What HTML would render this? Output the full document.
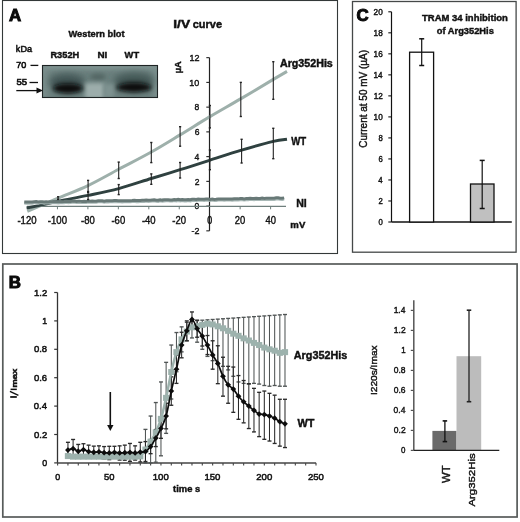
<!DOCTYPE html>
<html><head><meta charset="utf-8"><style>
html,body{margin:0;padding:0;background:#fff;}
svg{display:block;font-family:"Liberation Sans",sans-serif;will-change:transform;}
</style></head><body>
<svg width="520" height="522" viewBox="0 0 520 522">
<rect width="520" height="522" fill="#fff"/>
<rect x="2.5" y="0.5" width="335" height="253" fill="none" stroke="#333838" stroke-width="1.1"/>
<rect x="352.5" y="1.5" width="163.6" height="250.7" fill="none" stroke="#454848" stroke-width="1.3"/>
<rect x="2.8" y="264" width="514.3" height="253.0" fill="none" stroke="#575b5a" stroke-width="1.7"/>
<text x="9.08" y="20.80" font-size="16.86" font-weight="bold" fill="#0a0a0a" stroke="#0a0a0a" stroke-width="1.0" textLength="12.16" lengthAdjust="spacingAndGlyphs">A</text>
<text x="68.50" y="36.59" font-size="9.63" font-weight="bold" fill="#111" stroke="#111" stroke-width="0.42" textLength="56.00" lengthAdjust="spacingAndGlyphs">Western blot</text>
<text x="15.86" y="51.52" font-size="9.59" font-weight="normal" fill="#111" stroke="#111" stroke-width="0.55" textLength="16.16" lengthAdjust="spacingAndGlyphs">kDa</text>
<text x="50.39" y="57.59" font-size="9.57" font-weight="bold" fill="#111" stroke="#111" stroke-width="0.42" textLength="28.93" lengthAdjust="spacingAndGlyphs">R352H</text>
<text x="97.45" y="58.29" font-size="9.42" font-weight="bold" fill="#111" stroke="#111" stroke-width="0.42" textLength="9.91" lengthAdjust="spacingAndGlyphs">NI</text>
<text x="124.60" y="58.29" font-size="9.42" font-weight="bold" fill="#111" stroke="#111" stroke-width="0.42" textLength="14.49" lengthAdjust="spacingAndGlyphs">WT</text>
<text x="16.14" y="68.20" font-size="9.02" font-weight="normal" fill="#111" stroke="#111" stroke-width="0.6" textLength="10.01" lengthAdjust="spacingAndGlyphs">70</text>
<text x="16.42" y="85.20" font-size="8.87" font-weight="normal" fill="#111" stroke="#111" stroke-width="0.6" textLength="10.69" lengthAdjust="spacingAndGlyphs">55</text>
<line x1="30.50" y1="65.40" x2="38.30" y2="65.40" stroke="#111" stroke-width="1.3" />
<line x1="29.50" y1="82.50" x2="38.00" y2="82.50" stroke="#111" stroke-width="1.3" />
<line x1="16.30" y1="90.60" x2="38.50" y2="90.60" stroke="#111" stroke-width="1.3" />
<path d="M36.5,87.6 L43,90.6 L36.5,93.6 Z" fill="#111"/>
<defs>
<filter id="bl1" x="-50%" y="-50%" width="200%" height="200%"><feGaussianBlur stdDeviation="2.2"/></filter>
<filter id="bl2" x="-50%" y="-50%" width="200%" height="200%"><feGaussianBlur stdDeviation="3.5"/></filter>
<filter id="bl3" x="-50%" y="-50%" width="200%" height="200%"><feGaussianBlur stdDeviation="1.4"/></filter>
<filter id="bl4" x="-50%" y="-50%" width="200%" height="200%"><feGaussianBlur stdDeviation="1.9"/></filter>
<clipPath id="blotclip"><rect x="42.5" y="65.5" width="115" height="32"/></clipPath>
</defs>
<g clip-path="url(#blotclip)">
<rect x="42" y="65" width="116" height="33" fill="#6a7f7d"/>
<rect x="40" y="62" width="120" height="8" fill="#7f9391" filter="url(#bl1)"/>
<rect x="38" y="60" width="10" height="40" fill="#7a8e8c" filter="url(#bl2)"/>
<rect x="153" y="60" width="10" height="40" fill="#7d918f" filter="url(#bl2)"/>
<ellipse cx="67" cy="82" rx="18" ry="8" fill="#3f5352" filter="url(#bl2)"/>
<ellipse cx="134" cy="81" rx="20" ry="8" fill="#425655" filter="url(#bl2)"/>
<ellipse cx="98" cy="77" rx="8" ry="3.5" fill="#526664" filter="url(#bl1)"/>
<rect x="85" y="83" width="19" height="16" fill="#9cadab" filter="url(#bl1)"/>
<rect x="104" y="84" width="10" height="14" fill="#7f9391" filter="url(#bl1)"/>
<ellipse cx="68" cy="88.4" rx="15" ry="5.0" fill="#070d0d" filter="url(#bl4)"/>
<ellipse cx="134" cy="87.4" rx="17.5" ry="4.9" fill="#070d0d" filter="url(#bl4)"/>
</g>
<rect x="42.5" y="65.5" width="115" height="32" fill="none" stroke="#1e2424" stroke-width="1.1"/>
<text x="173.29" y="28.19" font-size="10.32" font-weight="bold" fill="#111" stroke="#111" stroke-width="0.42" textLength="16.79" lengthAdjust="spacingAndGlyphs">I/V</text>
<text x="192.78" y="28.19" font-size="10.36" font-weight="bold" fill="#111" stroke="#111" stroke-width="0.42" textLength="29.28" lengthAdjust="spacingAndGlyphs">curve</text>
<line x1="209.50" y1="57.66" x2="209.50" y2="230.84" stroke="#222" stroke-width="1.2" />
<line x1="206.30" y1="230.84" x2="209.50" y2="230.84" stroke="#222" stroke-width="1.1" />
<line x1="206.30" y1="206.10" x2="209.50" y2="206.10" stroke="#222" stroke-width="1.1" />
<line x1="206.30" y1="181.36" x2="209.50" y2="181.36" stroke="#222" stroke-width="1.1" />
<line x1="206.30" y1="156.62" x2="209.50" y2="156.62" stroke="#222" stroke-width="1.1" />
<line x1="206.30" y1="131.88" x2="209.50" y2="131.88" stroke="#222" stroke-width="1.1" />
<line x1="206.30" y1="107.14" x2="209.50" y2="107.14" stroke="#222" stroke-width="1.1" />
<line x1="206.30" y1="82.40" x2="209.50" y2="82.40" stroke="#222" stroke-width="1.1" />
<line x1="206.30" y1="57.66" x2="209.50" y2="57.66" stroke="#222" stroke-width="1.1" />
<text x="191.54" y="234.04" font-size="9.60" font-weight="normal" fill="#111" stroke="#111" stroke-width="0.4" textLength="7.91" lengthAdjust="spacingAndGlyphs">-2</text>
<text x="194.57" y="209.30" font-size="9.60" font-weight="normal" fill="#111" stroke="#111" stroke-width="0.4" textLength="4.76" lengthAdjust="spacingAndGlyphs">0</text>
<text x="194.69" y="184.56" font-size="9.60" font-weight="normal" fill="#111" stroke="#111" stroke-width="0.4" textLength="4.74" lengthAdjust="spacingAndGlyphs">2</text>
<text x="194.47" y="159.82" font-size="9.74" font-weight="normal" fill="#111" stroke="#111" stroke-width="0.4" textLength="4.79" lengthAdjust="spacingAndGlyphs">4</text>
<text x="194.63" y="135.08" font-size="9.60" font-weight="normal" fill="#111" stroke="#111" stroke-width="0.4" textLength="4.75" lengthAdjust="spacingAndGlyphs">6</text>
<text x="194.62" y="110.34" font-size="9.60" font-weight="normal" fill="#111" stroke="#111" stroke-width="0.4" textLength="4.75" lengthAdjust="spacingAndGlyphs">8</text>
<text x="189.34" y="85.60" font-size="9.60" font-weight="normal" fill="#111" stroke="#111" stroke-width="0.4" textLength="10.01" lengthAdjust="spacingAndGlyphs">10</text>
<text x="189.45" y="60.86" font-size="9.60" font-weight="normal" fill="#111" stroke="#111" stroke-width="0.4" textLength="10.00" lengthAdjust="spacingAndGlyphs">12</text>
<line x1="27.00" y1="206.40" x2="286.00" y2="206.40" stroke="#6f7f7d" stroke-width="1.1" />
<line x1="27.00" y1="206.40" x2="27.00" y2="209.30" stroke="#6f7f7d" stroke-width="1.0" />
<line x1="57.45" y1="206.40" x2="57.45" y2="209.30" stroke="#6f7f7d" stroke-width="1.0" />
<line x1="87.90" y1="206.40" x2="87.90" y2="209.30" stroke="#6f7f7d" stroke-width="1.0" />
<line x1="118.35" y1="206.40" x2="118.35" y2="209.30" stroke="#6f7f7d" stroke-width="1.0" />
<line x1="148.80" y1="206.40" x2="148.80" y2="209.30" stroke="#6f7f7d" stroke-width="1.0" />
<line x1="179.25" y1="206.40" x2="179.25" y2="209.30" stroke="#6f7f7d" stroke-width="1.0" />
<line x1="240.15" y1="206.40" x2="240.15" y2="209.30" stroke="#6f7f7d" stroke-width="1.0" />
<line x1="270.60" y1="206.40" x2="270.60" y2="209.30" stroke="#6f7f7d" stroke-width="1.0" />
<text x="17.38" y="223.60" font-size="10.45" font-weight="normal" fill="#111" stroke="#111" stroke-width="0.4" textLength="19.19" lengthAdjust="spacingAndGlyphs">-120</text>
<text x="47.83" y="223.60" font-size="10.45" font-weight="normal" fill="#111" stroke="#111" stroke-width="0.4" textLength="19.19" lengthAdjust="spacingAndGlyphs">-100</text>
<text x="81.01" y="223.60" font-size="10.45" font-weight="normal" fill="#111" stroke="#111" stroke-width="0.4" textLength="13.74" lengthAdjust="spacingAndGlyphs">-80</text>
<text x="111.46" y="223.60" font-size="10.45" font-weight="normal" fill="#111" stroke="#111" stroke-width="0.4" textLength="13.74" lengthAdjust="spacingAndGlyphs">-60</text>
<text x="141.91" y="223.60" font-size="10.45" font-weight="normal" fill="#111" stroke="#111" stroke-width="0.4" textLength="13.74" lengthAdjust="spacingAndGlyphs">-40</text>
<text x="172.36" y="223.60" font-size="10.45" font-weight="normal" fill="#111" stroke="#111" stroke-width="0.4" textLength="13.74" lengthAdjust="spacingAndGlyphs">-20</text>
<text x="207.21" y="223.60" font-size="10.45" font-weight="normal" fill="#111" stroke="#111" stroke-width="0.4" textLength="4.98" lengthAdjust="spacingAndGlyphs">0</text>
<text x="234.87" y="223.60" font-size="10.45" font-weight="normal" fill="#111" stroke="#111" stroke-width="0.4" textLength="10.46" lengthAdjust="spacingAndGlyphs">20</text>
<text x="265.44" y="223.60" font-size="10.45" font-weight="normal" fill="#111" stroke="#111" stroke-width="0.4" textLength="10.47" lengthAdjust="spacingAndGlyphs">40</text>
<path d="M27.30,211.30 C32.42,209.12 47.88,202.48 58.00,198.20 C68.12,193.92 77.88,190.42 88.00,185.60 C98.12,180.78 108.15,174.90 118.70,169.30 C129.25,163.70 141.07,157.73 151.30,152.00 C161.53,146.27 170.40,140.75 180.10,134.90 C189.80,129.05 199.42,122.90 209.50,116.90 C219.58,110.90 229.97,105.15 240.60,98.90 C251.23,92.65 265.57,83.98 273.30,79.40 C281.03,74.82 284.72,72.73 287.00,71.40" fill="none" stroke="#9eb0ab" stroke-width="3.0"/>
<path d="M26.90,208.00 C29.58,207.43 37.48,205.80 43.00,204.60 C48.52,203.40 52.50,202.33 60.00,200.80 C67.50,199.27 78.22,197.43 88.00,195.40 C97.78,193.37 108.15,191.42 118.70,188.60 C129.25,185.78 141.07,181.65 151.30,178.50 C161.53,175.35 170.40,172.73 180.10,169.70 C189.80,166.67 199.25,163.57 209.50,160.30 C219.75,157.03 230.97,153.25 241.60,150.10 C252.23,146.95 265.73,143.20 273.30,141.40 C280.87,139.60 284.72,139.65 287.00,139.30" fill="none" stroke="#2f4140" stroke-width="2.9"/>
<path d="M24.20,203.74 L26.20,203.90 L28.20,203.76 L30.20,203.87 L32.20,203.85 L34.20,203.48 L36.20,203.42 L38.20,203.88 L40.20,203.50 L42.20,203.46 L44.20,203.88 L46.20,203.54 L48.20,203.72 L50.20,203.48 L52.20,203.54 L54.20,203.22 L56.20,203.48 L58.20,203.59 L60.20,203.35 L62.20,203.45 L64.20,203.37 L66.20,202.98 L68.20,203.36 L70.20,203.23 L72.20,203.02 L74.20,202.83 L76.20,203.30 L78.20,203.03 L80.20,203.15 L82.20,203.21 L84.20,203.08 L86.20,203.18 L88.20,202.83 L90.20,203.04 L92.20,202.80 L94.20,203.06 L96.20,202.99 L98.20,202.49 L100.20,202.48 L102.20,202.50 L104.20,202.92 L106.20,202.57 L108.20,202.65 L110.20,202.43 L112.20,202.52 L114.20,202.41 L116.20,202.36 L118.20,202.47 L120.20,202.44 L122.20,202.60 L124.20,202.43 L126.20,202.55 L128.20,202.48 L130.20,202.52 L132.20,202.30 L134.20,201.97 L136.20,202.35 L138.20,202.38 L140.20,202.32 L142.20,202.08 L144.20,202.14 L146.20,201.81 L148.20,202.15 L150.20,201.96 L152.20,201.75 L154.20,201.59 L156.20,202.03 L158.20,202.08 L160.20,201.51 L162.20,201.91 L164.20,201.64 L166.20,201.45 L168.20,201.51 L170.20,201.76 L172.20,201.79 L174.20,201.26 L176.20,201.57 L178.20,201.20 L180.20,201.57 L182.20,201.31 L184.20,201.61 L186.20,201.64 L188.20,201.32 L190.20,201.58 L192.20,201.14 L194.20,200.97 L196.20,201.25 L198.20,200.88 L200.20,200.95 L202.20,201.04 L204.20,201.13 L206.20,200.83 L208.20,200.73 L210.20,201.19 L212.20,200.83 L214.20,201.18 L216.20,201.11 L218.20,200.77 L220.20,200.79 L222.20,200.79 L224.20,200.84 L226.20,200.78 L228.20,200.72 L230.20,200.73 L232.20,200.89 L234.20,200.60 L236.20,200.52 L238.20,200.66 L240.20,200.34 L242.20,200.35 L244.20,200.72 L246.20,200.42 L248.20,200.40 L250.20,200.05 L252.20,200.26 L254.20,200.33 L256.20,199.96 L258.20,200.28 L260.20,200.26 L262.20,199.89 L264.20,200.20 L266.20,200.07 L268.20,200.16 L270.20,199.94 L272.20,200.12 L274.20,200.11 L276.20,199.64 L278.20,199.64 L280.20,199.97 L282.20,200.11 L284.20,199.66" fill="none" stroke="#a9b9b7" stroke-width="1.6"/>
<path d="M24.20,201.94 L26.20,202.10 L28.20,201.96 L30.20,202.07 L32.20,202.05 L34.20,201.68 L36.20,201.62 L38.20,202.08 L40.20,201.70 L42.20,201.66 L44.20,202.08 L46.20,201.74 L48.20,201.92 L50.20,201.68 L52.20,201.74 L54.20,201.42 L56.20,201.68 L58.20,201.79 L60.20,201.55 L62.20,201.65 L64.20,201.57 L66.20,201.18 L68.20,201.56 L70.20,201.43 L72.20,201.22 L74.20,201.03 L76.20,201.50 L78.20,201.23 L80.20,201.35 L82.20,201.41 L84.20,201.28 L86.20,201.38 L88.20,201.03 L90.20,201.24 L92.20,201.00 L94.20,201.26 L96.20,201.19 L98.20,200.69 L100.20,200.68 L102.20,200.70 L104.20,201.12 L106.20,200.77 L108.20,200.85 L110.20,200.63 L112.20,200.72 L114.20,200.61 L116.20,200.56 L118.20,200.67 L120.20,200.64 L122.20,200.80 L124.20,200.63 L126.20,200.75 L128.20,200.68 L130.20,200.72 L132.20,200.50 L134.20,200.17 L136.20,200.55 L138.20,200.58 L140.20,200.52 L142.20,200.28 L144.20,200.34 L146.20,200.01 L148.20,200.35 L150.20,200.16 L152.20,199.95 L154.20,199.79 L156.20,200.23 L158.20,200.28 L160.20,199.71 L162.20,200.11 L164.20,199.84 L166.20,199.65 L168.20,199.71 L170.20,199.96 L172.20,199.99 L174.20,199.46 L176.20,199.77 L178.20,199.40 L180.20,199.77 L182.20,199.51 L184.20,199.81 L186.20,199.84 L188.20,199.52 L190.20,199.78 L192.20,199.34 L194.20,199.17 L196.20,199.45 L198.20,199.08 L200.20,199.15 L202.20,199.24 L204.20,199.33 L206.20,199.03 L208.20,198.93 L210.20,199.39 L212.20,199.03 L214.20,199.38 L216.20,199.31 L218.20,198.97 L220.20,198.99 L222.20,198.99 L224.20,199.04 L226.20,198.98 L228.20,198.92 L230.20,198.93 L232.20,199.09 L234.20,198.80 L236.20,198.72 L238.20,198.86 L240.20,198.54 L242.20,198.55 L244.20,198.92 L246.20,198.62 L248.20,198.60 L250.20,198.25 L252.20,198.46 L254.20,198.53 L256.20,198.16 L258.20,198.48 L260.20,198.46 L262.20,198.09 L264.20,198.40 L266.20,198.27 L268.20,198.36 L270.20,198.14 L272.20,198.32 L274.20,198.31 L276.20,197.84 L278.20,197.84 L280.20,198.17 L282.20,198.31 L284.20,197.86" fill="none" stroke="#687977" stroke-width="3.0"/>
<line x1="58.10" y1="196.80" x2="58.10" y2="199.30" stroke="#222" stroke-width="1.1" />
<line x1="57.00" y1="196.80" x2="59.20" y2="196.80" stroke="#222" stroke-width="1.4000000000000001" />
<line x1="57.00" y1="199.30" x2="59.20" y2="199.30" stroke="#222" stroke-width="1.4000000000000001" />
<line x1="88.10" y1="180.40" x2="88.10" y2="191.50" stroke="#222" stroke-width="1.1" />
<line x1="87.00" y1="180.40" x2="89.20" y2="180.40" stroke="#222" stroke-width="1.4000000000000001" />
<line x1="87.00" y1="191.50" x2="89.20" y2="191.50" stroke="#222" stroke-width="1.4000000000000001" />
<line x1="88.10" y1="192.50" x2="88.10" y2="199.50" stroke="#222" stroke-width="1.1" />
<line x1="87.00" y1="192.50" x2="89.20" y2="192.50" stroke="#222" stroke-width="1.4000000000000001" />
<line x1="87.00" y1="199.50" x2="89.20" y2="199.50" stroke="#222" stroke-width="1.4000000000000001" />
<line x1="118.70" y1="162.10" x2="118.70" y2="178.50" stroke="#222" stroke-width="1.1" />
<line x1="117.60" y1="162.10" x2="119.80" y2="162.10" stroke="#222" stroke-width="1.4000000000000001" />
<line x1="117.60" y1="178.50" x2="119.80" y2="178.50" stroke="#222" stroke-width="1.4000000000000001" />
<line x1="118.70" y1="184.60" x2="118.70" y2="194.60" stroke="#222" stroke-width="1.1" />
<line x1="117.60" y1="184.60" x2="119.80" y2="184.60" stroke="#222" stroke-width="1.4000000000000001" />
<line x1="117.60" y1="194.60" x2="119.80" y2="194.60" stroke="#222" stroke-width="1.4000000000000001" />
<line x1="151.30" y1="142.50" x2="151.30" y2="162.60" stroke="#222" stroke-width="1.1" />
<line x1="150.20" y1="142.50" x2="152.40" y2="142.50" stroke="#222" stroke-width="1.4000000000000001" />
<line x1="150.20" y1="162.60" x2="152.40" y2="162.60" stroke="#222" stroke-width="1.4000000000000001" />
<line x1="151.30" y1="173.90" x2="151.30" y2="184.30" stroke="#222" stroke-width="1.1" />
<line x1="150.20" y1="173.90" x2="152.40" y2="173.90" stroke="#222" stroke-width="1.4000000000000001" />
<line x1="150.20" y1="184.30" x2="152.40" y2="184.30" stroke="#222" stroke-width="1.4000000000000001" />
<line x1="180.10" y1="126.70" x2="180.10" y2="146.20" stroke="#222" stroke-width="1.1" />
<line x1="179.00" y1="126.70" x2="181.20" y2="126.70" stroke="#222" stroke-width="1.4000000000000001" />
<line x1="179.00" y1="146.20" x2="181.20" y2="146.20" stroke="#222" stroke-width="1.4000000000000001" />
<line x1="180.10" y1="162.50" x2="180.10" y2="178.00" stroke="#222" stroke-width="1.1" />
<line x1="179.00" y1="162.50" x2="181.20" y2="162.50" stroke="#222" stroke-width="1.4000000000000001" />
<line x1="179.00" y1="178.00" x2="181.20" y2="178.00" stroke="#222" stroke-width="1.4000000000000001" />
<line x1="209.90" y1="105.50" x2="209.90" y2="127.90" stroke="#222" stroke-width="1.1" />
<line x1="208.80" y1="105.50" x2="211.00" y2="105.50" stroke="#222" stroke-width="1.4000000000000001" />
<line x1="208.80" y1="127.90" x2="211.00" y2="127.90" stroke="#222" stroke-width="1.4000000000000001" />
<line x1="209.90" y1="150.00" x2="209.90" y2="169.70" stroke="#222" stroke-width="1.1" />
<line x1="208.80" y1="150.00" x2="211.00" y2="150.00" stroke="#222" stroke-width="1.4000000000000001" />
<line x1="208.80" y1="169.70" x2="211.00" y2="169.70" stroke="#222" stroke-width="1.4000000000000001" />
<line x1="240.80" y1="82.40" x2="240.80" y2="116.50" stroke="#222" stroke-width="1.1" />
<line x1="239.70" y1="82.40" x2="241.90" y2="82.40" stroke="#222" stroke-width="1.4000000000000001" />
<line x1="239.70" y1="116.50" x2="241.90" y2="116.50" stroke="#222" stroke-width="1.4000000000000001" />
<line x1="241.60" y1="139.30" x2="241.60" y2="163.00" stroke="#222" stroke-width="1.1" />
<line x1="240.50" y1="139.30" x2="242.70" y2="139.30" stroke="#222" stroke-width="1.4000000000000001" />
<line x1="240.50" y1="163.00" x2="242.70" y2="163.00" stroke="#222" stroke-width="1.4000000000000001" />
<line x1="273.30" y1="61.70" x2="273.30" y2="99.30" stroke="#222" stroke-width="1.1" />
<line x1="272.20" y1="61.70" x2="274.40" y2="61.70" stroke="#222" stroke-width="1.4000000000000001" />
<line x1="272.20" y1="99.30" x2="274.40" y2="99.30" stroke="#222" stroke-width="1.4000000000000001" />
<line x1="273.30" y1="128.30" x2="273.30" y2="158.70" stroke="#222" stroke-width="1.1" />
<line x1="272.20" y1="128.30" x2="274.40" y2="128.30" stroke="#222" stroke-width="1.4000000000000001" />
<line x1="272.20" y1="158.70" x2="274.40" y2="158.70" stroke="#222" stroke-width="1.4000000000000001" />
<text x="279.94" y="67.09" font-size="10.18" font-weight="bold" fill="#111" stroke="#111" stroke-width="0.42" textLength="52.88" lengthAdjust="spacingAndGlyphs">Arg352His</text>
<text x="291.20" y="144.59" font-size="11.31" font-weight="bold" fill="#111" stroke="#111" stroke-width="0.42" textLength="14.99" lengthAdjust="spacingAndGlyphs">WT</text>
<text x="296.20" y="207.39" font-size="11.45" font-weight="bold" fill="#111" stroke="#111" stroke-width="0.42" textLength="10.60" lengthAdjust="spacingAndGlyphs">NI</text>
<text x="290.38" y="227.59" font-size="9.13" font-weight="bold" fill="#111" stroke="#111" stroke-width="0.42" textLength="14.88" lengthAdjust="spacingAndGlyphs">mV</text>
<text transform="translate(181.09,73.19) rotate(-90)" x="0" y="0" font-size="9.27" font-weight="bold" fill="#111" stroke="#111" stroke-width="0.42" textLength="11.92" lengthAdjust="spacingAndGlyphs">µA</text>
<text x="356.41" y="21.00" font-size="15.75" font-weight="bold" fill="#0a0a0a" stroke="#0a0a0a" stroke-width="1.0" textLength="12.15" lengthAdjust="spacingAndGlyphs">C</text>
<text x="422.00" y="20.59" font-size="9.22" font-weight="bold" fill="#111" stroke="#111" stroke-width="0.42" textLength="85.87" lengthAdjust="spacingAndGlyphs">TRAM 34 inhibition</text>
<text x="436.75" y="33.59" font-size="9.49" font-weight="bold" fill="#111" stroke="#111" stroke-width="0.42" textLength="57.12" lengthAdjust="spacingAndGlyphs">of Arg352His</text>
<line x1="391.50" y1="11.80" x2="391.50" y2="222.00" stroke="#111" stroke-width="1.2" />
<line x1="388.30" y1="222.00" x2="391.50" y2="222.00" stroke="#111" stroke-width="1.1" />
<text x="378.39" y="224.80" font-size="8.16" font-weight="normal" fill="#111" stroke="#111" stroke-width="0.4" textLength="4.32" lengthAdjust="spacingAndGlyphs">0</text>
<line x1="388.30" y1="200.98" x2="391.50" y2="200.98" stroke="#111" stroke-width="1.1" />
<text x="378.49" y="203.78" font-size="8.16" font-weight="normal" fill="#111" stroke="#111" stroke-width="0.4" textLength="4.29" lengthAdjust="spacingAndGlyphs">2</text>
<line x1="388.30" y1="179.96" x2="391.50" y2="179.96" stroke="#111" stroke-width="1.1" />
<text x="378.29" y="182.76" font-size="8.29" font-weight="normal" fill="#111" stroke="#111" stroke-width="0.4" textLength="4.34" lengthAdjust="spacingAndGlyphs">4</text>
<line x1="388.30" y1="158.94" x2="391.50" y2="158.94" stroke="#111" stroke-width="1.1" />
<text x="378.44" y="161.74" font-size="8.16" font-weight="normal" fill="#111" stroke="#111" stroke-width="0.4" textLength="4.30" lengthAdjust="spacingAndGlyphs">6</text>
<line x1="388.30" y1="137.92" x2="391.50" y2="137.92" stroke="#111" stroke-width="1.1" />
<text x="378.43" y="140.72" font-size="8.16" font-weight="normal" fill="#111" stroke="#111" stroke-width="0.4" textLength="4.31" lengthAdjust="spacingAndGlyphs">8</text>
<line x1="388.30" y1="116.90" x2="391.50" y2="116.90" stroke="#111" stroke-width="1.1" />
<text x="373.60" y="119.70" font-size="8.16" font-weight="normal" fill="#111" stroke="#111" stroke-width="0.4" textLength="9.12" lengthAdjust="spacingAndGlyphs">10</text>
<line x1="388.30" y1="95.88" x2="391.50" y2="95.88" stroke="#111" stroke-width="1.1" />
<text x="373.70" y="98.68" font-size="8.16" font-weight="normal" fill="#111" stroke="#111" stroke-width="0.4" textLength="9.11" lengthAdjust="spacingAndGlyphs">12</text>
<line x1="388.30" y1="74.86" x2="391.50" y2="74.86" stroke="#111" stroke-width="1.1" />
<text x="373.52" y="77.66" font-size="8.29" font-weight="normal" fill="#111" stroke="#111" stroke-width="0.4" textLength="9.12" lengthAdjust="spacingAndGlyphs">14</text>
<line x1="388.30" y1="53.84" x2="391.50" y2="53.84" stroke="#111" stroke-width="1.1" />
<text x="373.64" y="56.64" font-size="8.16" font-weight="normal" fill="#111" stroke="#111" stroke-width="0.4" textLength="9.12" lengthAdjust="spacingAndGlyphs">16</text>
<line x1="388.30" y1="32.82" x2="391.50" y2="32.82" stroke="#111" stroke-width="1.1" />
<text x="373.64" y="35.62" font-size="8.16" font-weight="normal" fill="#111" stroke="#111" stroke-width="0.4" textLength="9.12" lengthAdjust="spacingAndGlyphs">18</text>
<line x1="388.30" y1="11.80" x2="391.50" y2="11.80" stroke="#111" stroke-width="1.1" />
<text x="373.59" y="14.60" font-size="8.16" font-weight="normal" fill="#111" stroke="#111" stroke-width="0.4" textLength="9.13" lengthAdjust="spacingAndGlyphs">20</text>
<line x1="391.50" y1="222.00" x2="511.80" y2="222.00" stroke="#111" stroke-width="1.3" />
<rect x="409.6" y="52.2" width="24" height="169.80" fill="#fff" stroke="#111" stroke-width="1.3"/>
<rect x="470.5" y="184.0" width="23.5" height="38.00" fill="#c0c0c0" stroke="#111" stroke-width="1.3"/>
<line x1="421.70" y1="38.80" x2="421.70" y2="65.50" stroke="#111" stroke-width="1.2" />
<line x1="419.20" y1="38.80" x2="424.20" y2="38.80" stroke="#111" stroke-width="1.5" />
<line x1="419.20" y1="65.50" x2="424.20" y2="65.50" stroke="#111" stroke-width="1.5" />
<line x1="482.20" y1="160.40" x2="482.20" y2="208.50" stroke="#111" stroke-width="1.2" />
<line x1="479.70" y1="160.40" x2="484.70" y2="160.40" stroke="#111" stroke-width="1.5" />
<line x1="479.70" y1="208.50" x2="484.70" y2="208.50" stroke="#111" stroke-width="1.5" />
<text transform="translate(367.20,147.81) rotate(-90)" x="0" y="0" font-size="10.07" font-weight="normal" fill="#111" stroke="#111" stroke-width="0.4" textLength="97.83" lengthAdjust="spacingAndGlyphs">Current at 50 mV (µA)</text>
<text x="8.87" y="287.60" font-size="15.99" font-weight="bold" fill="#0a0a0a" stroke="#0a0a0a" stroke-width="1.0" textLength="12.20" lengthAdjust="spacingAndGlyphs">B</text>
<line x1="57.50" y1="292.50" x2="57.50" y2="462.90" stroke="#333" stroke-width="1.3" />
<line x1="54.20" y1="462.90" x2="57.50" y2="462.90" stroke="#333" stroke-width="1.2" />
<text x="42.17" y="466.05" font-size="9.45" font-weight="normal" fill="#111" stroke="#111" stroke-width="0.5" textLength="4.92" lengthAdjust="spacingAndGlyphs">0</text>
<line x1="54.20" y1="434.50" x2="57.50" y2="434.50" stroke="#333" stroke-width="1.2" />
<text x="34.00" y="437.65" font-size="9.45" font-weight="normal" fill="#111" stroke="#111" stroke-width="0.5" textLength="13.23" lengthAdjust="spacingAndGlyphs">0.2</text>
<line x1="54.20" y1="406.10" x2="57.50" y2="406.10" stroke="#333" stroke-width="1.2" />
<text x="33.79" y="409.25" font-size="9.45" font-weight="normal" fill="#111" stroke="#111" stroke-width="0.5" textLength="13.24" lengthAdjust="spacingAndGlyphs">0.4</text>
<line x1="54.20" y1="377.70" x2="57.50" y2="377.70" stroke="#333" stroke-width="1.2" />
<text x="33.94" y="380.85" font-size="9.45" font-weight="normal" fill="#111" stroke="#111" stroke-width="0.5" textLength="13.23" lengthAdjust="spacingAndGlyphs">0.6</text>
<line x1="54.20" y1="349.30" x2="57.50" y2="349.30" stroke="#333" stroke-width="1.2" />
<text x="33.93" y="352.45" font-size="9.45" font-weight="normal" fill="#111" stroke="#111" stroke-width="0.5" textLength="13.23" lengthAdjust="spacingAndGlyphs">0.8</text>
<line x1="54.20" y1="320.90" x2="57.50" y2="320.90" stroke="#333" stroke-width="1.2" />
<text x="42.32" y="324.05" font-size="9.59" font-weight="normal" fill="#111" stroke="#111" stroke-width="0.5" textLength="4.86" lengthAdjust="spacingAndGlyphs">1</text>
<line x1="54.20" y1="292.50" x2="57.50" y2="292.50" stroke="#333" stroke-width="1.2" />
<text x="34.02" y="295.65" font-size="9.45" font-weight="normal" fill="#111" stroke="#111" stroke-width="0.5" textLength="13.21" lengthAdjust="spacingAndGlyphs">1.2</text>
<line x1="57.50" y1="462.90" x2="316.10" y2="462.90" stroke="#444" stroke-width="1.5" />
<line x1="57.60" y1="462.90" x2="57.60" y2="465.60" stroke="#444" stroke-width="1.1" />
<line x1="67.94" y1="462.90" x2="67.94" y2="465.60" stroke="#444" stroke-width="1.1" />
<line x1="78.27" y1="462.90" x2="78.27" y2="465.60" stroke="#444" stroke-width="1.1" />
<line x1="88.61" y1="462.90" x2="88.61" y2="465.60" stroke="#444" stroke-width="1.1" />
<line x1="98.94" y1="462.90" x2="98.94" y2="465.60" stroke="#444" stroke-width="1.1" />
<line x1="109.28" y1="462.90" x2="109.28" y2="465.60" stroke="#444" stroke-width="1.1" />
<line x1="119.62" y1="462.90" x2="119.62" y2="465.60" stroke="#444" stroke-width="1.1" />
<line x1="129.95" y1="462.90" x2="129.95" y2="465.60" stroke="#444" stroke-width="1.1" />
<line x1="140.29" y1="462.90" x2="140.29" y2="465.60" stroke="#444" stroke-width="1.1" />
<line x1="150.62" y1="462.90" x2="150.62" y2="465.60" stroke="#444" stroke-width="1.1" />
<line x1="160.96" y1="462.90" x2="160.96" y2="465.60" stroke="#444" stroke-width="1.1" />
<line x1="171.30" y1="462.90" x2="171.30" y2="465.60" stroke="#444" stroke-width="1.1" />
<line x1="181.63" y1="462.90" x2="181.63" y2="465.60" stroke="#444" stroke-width="1.1" />
<line x1="191.97" y1="462.90" x2="191.97" y2="465.60" stroke="#444" stroke-width="1.1" />
<line x1="202.30" y1="462.90" x2="202.30" y2="465.60" stroke="#444" stroke-width="1.1" />
<line x1="212.64" y1="462.90" x2="212.64" y2="465.60" stroke="#444" stroke-width="1.1" />
<line x1="222.98" y1="462.90" x2="222.98" y2="465.60" stroke="#444" stroke-width="1.1" />
<line x1="233.31" y1="462.90" x2="233.31" y2="465.60" stroke="#444" stroke-width="1.1" />
<line x1="243.65" y1="462.90" x2="243.65" y2="465.60" stroke="#444" stroke-width="1.1" />
<line x1="253.98" y1="462.90" x2="253.98" y2="465.60" stroke="#444" stroke-width="1.1" />
<line x1="264.32" y1="462.90" x2="264.32" y2="465.60" stroke="#444" stroke-width="1.1" />
<line x1="274.66" y1="462.90" x2="274.66" y2="465.60" stroke="#444" stroke-width="1.1" />
<line x1="284.99" y1="462.90" x2="284.99" y2="465.60" stroke="#444" stroke-width="1.1" />
<line x1="295.33" y1="462.90" x2="295.33" y2="465.60" stroke="#444" stroke-width="1.1" />
<line x1="305.66" y1="462.90" x2="305.66" y2="465.60" stroke="#444" stroke-width="1.1" />
<line x1="316.00" y1="462.90" x2="316.00" y2="465.60" stroke="#444" stroke-width="1.1" />
<text x="55.14" y="480.35" font-size="9.31" font-weight="normal" fill="#111" stroke="#111" stroke-width="0.5" textLength="4.92" lengthAdjust="spacingAndGlyphs">0</text>
<text x="104.04" y="480.35" font-size="9.31" font-weight="normal" fill="#111" stroke="#111" stroke-width="0.5" textLength="10.47" lengthAdjust="spacingAndGlyphs">50</text>
<text x="152.79" y="480.35" font-size="9.31" font-weight="normal" fill="#111" stroke="#111" stroke-width="0.5" textLength="15.98" lengthAdjust="spacingAndGlyphs">100</text>
<text x="204.47" y="480.35" font-size="9.31" font-weight="normal" fill="#111" stroke="#111" stroke-width="0.5" textLength="15.98" lengthAdjust="spacingAndGlyphs">150</text>
<text x="256.27" y="480.35" font-size="9.31" font-weight="normal" fill="#111" stroke="#111" stroke-width="0.5" textLength="15.99" lengthAdjust="spacingAndGlyphs">200</text>
<text x="307.95" y="480.35" font-size="9.31" font-weight="normal" fill="#111" stroke="#111" stroke-width="0.5" textLength="15.99" lengthAdjust="spacingAndGlyphs">250</text>
<text x="173.10" y="492.09" font-size="8.94" font-weight="bold" fill="#111" stroke="#111" stroke-width="0.42" textLength="27.08" lengthAdjust="spacingAndGlyphs">time s</text>
<rect x="10.2" y="396.1" width="6.6" height="1.75" fill="#111"/>
<line x1="9.9" y1="391.3" x2="18.4" y2="395.3" stroke="#111" stroke-width="1.4"/>
<rect x="10.6" y="388.6" width="6.2" height="1.5" fill="#111"/>
<text transform="translate(16.59,387.83) rotate(-90)" x="0" y="0" font-size="7.76" font-weight="bold" fill="#111" stroke="#111" stroke-width="0.42" textLength="19.29" lengthAdjust="spacingAndGlyphs">max</text>
<text x="293.74" y="358.89" font-size="10.46" font-weight="bold" fill="#111" stroke="#111" stroke-width="0.42" textLength="53.59" lengthAdjust="spacingAndGlyphs">Arg352His</text>
<text x="297.50" y="427.49" font-size="10.58" font-weight="bold" fill="#111" stroke="#111" stroke-width="0.42" textLength="16.91" lengthAdjust="spacingAndGlyphs">WT</text>
<line x1="110.30" y1="392.00" x2="110.30" y2="426.00" stroke="#111" stroke-width="1.6" />
<path d="M107.1,425 L113.5,425 L110.3,431 Z" fill="#111"/>
<line x1="67.94" y1="454.38" x2="67.94" y2="457.79" stroke="#505555" stroke-width="1.05" />
<line x1="65.94" y1="454.38" x2="69.94" y2="454.38" stroke="#505555" stroke-width="1.35" />
<line x1="65.94" y1="457.79" x2="69.94" y2="457.79" stroke="#505555" stroke-width="1.35" />
<line x1="73.10" y1="454.95" x2="73.10" y2="458.36" stroke="#505555" stroke-width="1.05" />
<line x1="71.10" y1="454.95" x2="75.10" y2="454.95" stroke="#505555" stroke-width="1.35" />
<line x1="71.10" y1="458.36" x2="75.10" y2="458.36" stroke="#505555" stroke-width="1.35" />
<line x1="78.27" y1="454.95" x2="78.27" y2="458.36" stroke="#505555" stroke-width="1.05" />
<line x1="76.27" y1="454.95" x2="80.27" y2="454.95" stroke="#505555" stroke-width="1.35" />
<line x1="76.27" y1="458.36" x2="80.27" y2="458.36" stroke="#505555" stroke-width="1.35" />
<line x1="83.44" y1="454.95" x2="83.44" y2="458.36" stroke="#505555" stroke-width="1.05" />
<line x1="81.44" y1="454.95" x2="85.44" y2="454.95" stroke="#505555" stroke-width="1.35" />
<line x1="81.44" y1="458.36" x2="85.44" y2="458.36" stroke="#505555" stroke-width="1.35" />
<line x1="88.61" y1="454.95" x2="88.61" y2="458.36" stroke="#505555" stroke-width="1.05" />
<line x1="86.61" y1="454.95" x2="90.61" y2="454.95" stroke="#505555" stroke-width="1.35" />
<line x1="86.61" y1="458.36" x2="90.61" y2="458.36" stroke="#505555" stroke-width="1.35" />
<line x1="93.78" y1="454.95" x2="93.78" y2="458.36" stroke="#505555" stroke-width="1.05" />
<line x1="91.78" y1="454.95" x2="95.78" y2="454.95" stroke="#505555" stroke-width="1.35" />
<line x1="91.78" y1="458.36" x2="95.78" y2="458.36" stroke="#505555" stroke-width="1.35" />
<line x1="98.94" y1="454.95" x2="98.94" y2="458.36" stroke="#505555" stroke-width="1.05" />
<line x1="96.94" y1="454.95" x2="100.94" y2="454.95" stroke="#505555" stroke-width="1.35" />
<line x1="96.94" y1="458.36" x2="100.94" y2="458.36" stroke="#505555" stroke-width="1.35" />
<line x1="104.11" y1="454.95" x2="104.11" y2="458.36" stroke="#505555" stroke-width="1.05" />
<line x1="102.11" y1="454.95" x2="106.11" y2="454.95" stroke="#505555" stroke-width="1.35" />
<line x1="102.11" y1="458.36" x2="106.11" y2="458.36" stroke="#505555" stroke-width="1.35" />
<line x1="109.28" y1="454.95" x2="109.28" y2="458.36" stroke="#505555" stroke-width="1.05" />
<line x1="107.28" y1="454.95" x2="111.28" y2="454.95" stroke="#505555" stroke-width="1.35" />
<line x1="107.28" y1="458.36" x2="111.28" y2="458.36" stroke="#505555" stroke-width="1.35" />
<line x1="114.45" y1="454.81" x2="114.45" y2="458.21" stroke="#505555" stroke-width="1.05" />
<line x1="112.45" y1="454.81" x2="116.45" y2="454.81" stroke="#505555" stroke-width="1.35" />
<line x1="112.45" y1="458.21" x2="116.45" y2="458.21" stroke="#505555" stroke-width="1.35" />
<line x1="119.62" y1="454.95" x2="119.62" y2="458.36" stroke="#505555" stroke-width="1.05" />
<line x1="117.62" y1="454.95" x2="121.62" y2="454.95" stroke="#505555" stroke-width="1.35" />
<line x1="117.62" y1="458.36" x2="121.62" y2="458.36" stroke="#505555" stroke-width="1.35" />
<line x1="124.78" y1="454.95" x2="124.78" y2="458.36" stroke="#505555" stroke-width="1.05" />
<line x1="122.78" y1="454.95" x2="126.78" y2="454.95" stroke="#505555" stroke-width="1.35" />
<line x1="122.78" y1="458.36" x2="126.78" y2="458.36" stroke="#505555" stroke-width="1.35" />
<line x1="129.95" y1="454.95" x2="129.95" y2="458.36" stroke="#505555" stroke-width="1.05" />
<line x1="127.95" y1="454.95" x2="131.95" y2="454.95" stroke="#505555" stroke-width="1.35" />
<line x1="127.95" y1="458.36" x2="131.95" y2="458.36" stroke="#505555" stroke-width="1.35" />
<line x1="135.12" y1="454.95" x2="135.12" y2="458.36" stroke="#505555" stroke-width="1.05" />
<line x1="133.12" y1="454.95" x2="137.12" y2="454.95" stroke="#505555" stroke-width="1.35" />
<line x1="133.12" y1="458.36" x2="137.12" y2="458.36" stroke="#505555" stroke-width="1.35" />
<line x1="140.29" y1="454.66" x2="140.29" y2="458.07" stroke="#505555" stroke-width="1.05" />
<line x1="138.29" y1="454.66" x2="142.29" y2="454.66" stroke="#505555" stroke-width="1.35" />
<line x1="138.29" y1="458.07" x2="142.29" y2="458.07" stroke="#505555" stroke-width="1.35" />
<line x1="145.46" y1="429.39" x2="145.46" y2="462.90" stroke="#505555" stroke-width="1.05" />
<line x1="143.46" y1="429.39" x2="147.46" y2="429.39" stroke="#505555" stroke-width="1.35" />
<line x1="143.46" y1="462.90" x2="147.46" y2="462.90" stroke="#505555" stroke-width="1.35" />
<line x1="150.62" y1="416.04" x2="150.62" y2="462.90" stroke="#505555" stroke-width="1.05" />
<line x1="148.62" y1="416.04" x2="152.62" y2="416.04" stroke="#505555" stroke-width="1.35" />
<line x1="148.62" y1="462.90" x2="152.62" y2="462.90" stroke="#505555" stroke-width="1.35" />
<line x1="155.79" y1="402.55" x2="155.79" y2="462.19" stroke="#505555" stroke-width="1.05" />
<line x1="153.79" y1="402.55" x2="157.79" y2="402.55" stroke="#505555" stroke-width="1.35" />
<line x1="153.79" y1="462.19" x2="157.79" y2="462.19" stroke="#505555" stroke-width="1.35" />
<line x1="160.96" y1="381.96" x2="160.96" y2="455.80" stroke="#505555" stroke-width="1.05" />
<line x1="158.96" y1="381.96" x2="162.96" y2="381.96" stroke="#505555" stroke-width="1.35" />
<line x1="158.96" y1="455.80" x2="162.96" y2="455.80" stroke="#505555" stroke-width="1.35" />
<line x1="166.13" y1="362.36" x2="166.13" y2="433.36" stroke="#505555" stroke-width="1.05" />
<line x1="164.13" y1="362.36" x2="168.13" y2="362.36" stroke="#505555" stroke-width="1.35" />
<line x1="164.13" y1="433.36" x2="168.13" y2="433.36" stroke="#505555" stroke-width="1.35" />
<line x1="171.30" y1="345.04" x2="171.30" y2="399.00" stroke="#505555" stroke-width="1.05" />
<line x1="169.30" y1="345.04" x2="173.30" y2="345.04" stroke="#505555" stroke-width="1.35" />
<line x1="169.30" y1="399.00" x2="173.30" y2="399.00" stroke="#505555" stroke-width="1.35" />
<line x1="176.46" y1="332.54" x2="176.46" y2="371.74" stroke="#505555" stroke-width="1.05" />
<line x1="174.46" y1="332.54" x2="178.46" y2="332.54" stroke="#505555" stroke-width="1.35" />
<line x1="174.46" y1="371.74" x2="178.46" y2="371.74" stroke="#505555" stroke-width="1.35" />
<line x1="181.63" y1="326.86" x2="181.63" y2="351.86" stroke="#505555" stroke-width="1.05" />
<line x1="179.63" y1="326.86" x2="183.63" y2="326.86" stroke="#505555" stroke-width="1.35" />
<line x1="179.63" y1="351.86" x2="183.63" y2="351.86" stroke="#505555" stroke-width="1.35" />
<line x1="186.80" y1="322.32" x2="186.80" y2="340.78" stroke="#505555" stroke-width="1.05" />
<line x1="184.80" y1="322.32" x2="188.80" y2="322.32" stroke="#505555" stroke-width="1.35" />
<line x1="184.80" y1="340.78" x2="188.80" y2="340.78" stroke="#505555" stroke-width="1.35" />
<line x1="191.97" y1="320.90" x2="191.97" y2="337.94" stroke="#505555" stroke-width="1.05" />
<line x1="189.97" y1="320.90" x2="193.97" y2="320.90" stroke="#505555" stroke-width="1.35" />
<line x1="189.97" y1="337.94" x2="193.97" y2="337.94" stroke="#505555" stroke-width="1.35" />
<line x1="197.14" y1="320.54" x2="197.14" y2="342.20" stroke="#505555" stroke-width="1.05" />
<line x1="195.14" y1="320.54" x2="199.14" y2="320.54" stroke="#505555" stroke-width="1.35" />
<line x1="195.14" y1="342.20" x2="199.14" y2="342.20" stroke="#505555" stroke-width="1.35" />
<line x1="202.30" y1="320.19" x2="202.30" y2="349.30" stroke="#505555" stroke-width="1.05" />
<line x1="200.30" y1="320.19" x2="204.30" y2="320.19" stroke="#505555" stroke-width="1.35" />
<line x1="200.30" y1="349.30" x2="204.30" y2="349.30" stroke="#505555" stroke-width="1.35" />
<line x1="207.47" y1="319.83" x2="207.47" y2="356.40" stroke="#505555" stroke-width="1.05" />
<line x1="205.47" y1="319.83" x2="209.47" y2="319.83" stroke="#505555" stroke-width="1.35" />
<line x1="205.47" y1="356.40" x2="209.47" y2="356.40" stroke="#505555" stroke-width="1.35" />
<line x1="212.64" y1="319.48" x2="212.64" y2="360.66" stroke="#505555" stroke-width="1.05" />
<line x1="210.64" y1="319.48" x2="214.64" y2="319.48" stroke="#505555" stroke-width="1.35" />
<line x1="210.64" y1="360.66" x2="214.64" y2="360.66" stroke="#505555" stroke-width="1.35" />
<line x1="217.81" y1="319.12" x2="217.81" y2="363.50" stroke="#505555" stroke-width="1.05" />
<line x1="215.81" y1="319.12" x2="219.81" y2="319.12" stroke="#505555" stroke-width="1.35" />
<line x1="215.81" y1="363.50" x2="219.81" y2="363.50" stroke="#505555" stroke-width="1.35" />
<line x1="222.98" y1="318.77" x2="222.98" y2="366.34" stroke="#505555" stroke-width="1.05" />
<line x1="220.98" y1="318.77" x2="224.98" y2="318.77" stroke="#505555" stroke-width="1.35" />
<line x1="220.98" y1="366.34" x2="224.98" y2="366.34" stroke="#505555" stroke-width="1.35" />
<line x1="228.14" y1="318.41" x2="228.14" y2="369.89" stroke="#505555" stroke-width="1.05" />
<line x1="226.14" y1="318.41" x2="230.14" y2="318.41" stroke="#505555" stroke-width="1.35" />
<line x1="226.14" y1="369.89" x2="230.14" y2="369.89" stroke="#505555" stroke-width="1.35" />
<line x1="233.31" y1="318.06" x2="233.31" y2="376.28" stroke="#505555" stroke-width="1.05" />
<line x1="231.31" y1="318.06" x2="235.31" y2="318.06" stroke="#505555" stroke-width="1.35" />
<line x1="231.31" y1="376.28" x2="235.31" y2="376.28" stroke="#505555" stroke-width="1.35" />
<line x1="238.48" y1="317.70" x2="238.48" y2="381.96" stroke="#505555" stroke-width="1.05" />
<line x1="236.48" y1="317.70" x2="240.48" y2="317.70" stroke="#505555" stroke-width="1.35" />
<line x1="236.48" y1="381.96" x2="240.48" y2="381.96" stroke="#505555" stroke-width="1.35" />
<line x1="243.65" y1="317.35" x2="243.65" y2="383.38" stroke="#505555" stroke-width="1.05" />
<line x1="241.65" y1="317.35" x2="245.65" y2="317.35" stroke="#505555" stroke-width="1.35" />
<line x1="241.65" y1="383.38" x2="245.65" y2="383.38" stroke="#505555" stroke-width="1.35" />
<line x1="248.82" y1="317.00" x2="248.82" y2="384.09" stroke="#505555" stroke-width="1.05" />
<line x1="246.82" y1="317.00" x2="250.82" y2="317.00" stroke="#505555" stroke-width="1.35" />
<line x1="246.82" y1="384.09" x2="250.82" y2="384.09" stroke="#505555" stroke-width="1.35" />
<line x1="253.98" y1="316.64" x2="253.98" y2="383.38" stroke="#505555" stroke-width="1.05" />
<line x1="251.98" y1="316.64" x2="255.98" y2="316.64" stroke="#505555" stroke-width="1.35" />
<line x1="251.98" y1="383.38" x2="255.98" y2="383.38" stroke="#505555" stroke-width="1.35" />
<line x1="259.15" y1="316.28" x2="259.15" y2="384.09" stroke="#505555" stroke-width="1.05" />
<line x1="257.15" y1="316.28" x2="261.15" y2="316.28" stroke="#505555" stroke-width="1.35" />
<line x1="257.15" y1="384.09" x2="261.15" y2="384.09" stroke="#505555" stroke-width="1.35" />
<line x1="264.32" y1="315.93" x2="264.32" y2="385.51" stroke="#505555" stroke-width="1.05" />
<line x1="262.32" y1="315.93" x2="266.32" y2="315.93" stroke="#505555" stroke-width="1.35" />
<line x1="262.32" y1="385.51" x2="266.32" y2="385.51" stroke="#505555" stroke-width="1.35" />
<line x1="269.49" y1="315.57" x2="269.49" y2="386.22" stroke="#505555" stroke-width="1.05" />
<line x1="267.49" y1="315.57" x2="271.49" y2="315.57" stroke="#505555" stroke-width="1.35" />
<line x1="267.49" y1="386.22" x2="271.49" y2="386.22" stroke="#505555" stroke-width="1.35" />
<line x1="274.66" y1="315.22" x2="274.66" y2="385.51" stroke="#505555" stroke-width="1.05" />
<line x1="272.66" y1="315.22" x2="276.66" y2="315.22" stroke="#505555" stroke-width="1.35" />
<line x1="272.66" y1="385.51" x2="276.66" y2="385.51" stroke="#505555" stroke-width="1.35" />
<line x1="279.82" y1="314.87" x2="279.82" y2="386.22" stroke="#505555" stroke-width="1.05" />
<line x1="277.82" y1="314.87" x2="281.82" y2="314.87" stroke="#505555" stroke-width="1.35" />
<line x1="277.82" y1="386.22" x2="281.82" y2="386.22" stroke="#505555" stroke-width="1.35" />
<line x1="284.99" y1="314.51" x2="284.99" y2="386.22" stroke="#505555" stroke-width="1.05" />
<line x1="282.99" y1="314.51" x2="286.99" y2="314.51" stroke="#505555" stroke-width="1.35" />
<line x1="282.99" y1="386.22" x2="286.99" y2="386.22" stroke="#505555" stroke-width="1.35" />
<line x1="67.94" y1="442.31" x2="67.94" y2="457.93" stroke="#2a2a2a" stroke-width="1.05" />
<line x1="65.94" y1="442.31" x2="69.94" y2="442.31" stroke="#2a2a2a" stroke-width="1.35" />
<line x1="65.94" y1="457.93" x2="69.94" y2="457.93" stroke="#2a2a2a" stroke-width="1.35" />
<line x1="73.10" y1="439.47" x2="73.10" y2="457.93" stroke="#2a2a2a" stroke-width="1.05" />
<line x1="71.10" y1="439.47" x2="75.10" y2="439.47" stroke="#2a2a2a" stroke-width="1.35" />
<line x1="71.10" y1="457.93" x2="75.10" y2="457.93" stroke="#2a2a2a" stroke-width="1.35" />
<line x1="78.27" y1="444.44" x2="78.27" y2="458.07" stroke="#2a2a2a" stroke-width="1.05" />
<line x1="76.27" y1="444.44" x2="80.27" y2="444.44" stroke="#2a2a2a" stroke-width="1.35" />
<line x1="76.27" y1="458.07" x2="80.27" y2="458.07" stroke="#2a2a2a" stroke-width="1.35" />
<line x1="83.44" y1="443.73" x2="83.44" y2="455.66" stroke="#2a2a2a" stroke-width="1.05" />
<line x1="81.44" y1="443.73" x2="85.44" y2="443.73" stroke="#2a2a2a" stroke-width="1.35" />
<line x1="81.44" y1="455.66" x2="85.44" y2="455.66" stroke="#2a2a2a" stroke-width="1.35" />
<line x1="88.61" y1="445.15" x2="88.61" y2="457.93" stroke="#2a2a2a" stroke-width="1.05" />
<line x1="86.61" y1="445.15" x2="90.61" y2="445.15" stroke="#2a2a2a" stroke-width="1.35" />
<line x1="86.61" y1="457.93" x2="90.61" y2="457.93" stroke="#2a2a2a" stroke-width="1.35" />
<line x1="93.78" y1="446.14" x2="93.78" y2="458.36" stroke="#2a2a2a" stroke-width="1.05" />
<line x1="91.78" y1="446.14" x2="95.78" y2="446.14" stroke="#2a2a2a" stroke-width="1.35" />
<line x1="91.78" y1="458.36" x2="95.78" y2="458.36" stroke="#2a2a2a" stroke-width="1.35" />
<line x1="98.94" y1="445.86" x2="98.94" y2="457.79" stroke="#2a2a2a" stroke-width="1.05" />
<line x1="96.94" y1="445.86" x2="100.94" y2="445.86" stroke="#2a2a2a" stroke-width="1.35" />
<line x1="96.94" y1="457.79" x2="100.94" y2="457.79" stroke="#2a2a2a" stroke-width="1.35" />
<line x1="104.11" y1="446.57" x2="104.11" y2="458.78" stroke="#2a2a2a" stroke-width="1.05" />
<line x1="102.11" y1="446.57" x2="106.11" y2="446.57" stroke="#2a2a2a" stroke-width="1.35" />
<line x1="102.11" y1="458.78" x2="106.11" y2="458.78" stroke="#2a2a2a" stroke-width="1.35" />
<line x1="109.28" y1="446.29" x2="109.28" y2="459.63" stroke="#2a2a2a" stroke-width="1.05" />
<line x1="107.28" y1="446.29" x2="111.28" y2="446.29" stroke="#2a2a2a" stroke-width="1.35" />
<line x1="107.28" y1="459.63" x2="111.28" y2="459.63" stroke="#2a2a2a" stroke-width="1.35" />
<line x1="114.45" y1="446.29" x2="114.45" y2="458.50" stroke="#2a2a2a" stroke-width="1.05" />
<line x1="112.45" y1="446.29" x2="116.45" y2="446.29" stroke="#2a2a2a" stroke-width="1.35" />
<line x1="112.45" y1="458.50" x2="116.45" y2="458.50" stroke="#2a2a2a" stroke-width="1.35" />
<line x1="119.62" y1="445.86" x2="119.62" y2="460.06" stroke="#2a2a2a" stroke-width="1.05" />
<line x1="117.62" y1="445.86" x2="121.62" y2="445.86" stroke="#2a2a2a" stroke-width="1.35" />
<line x1="117.62" y1="460.06" x2="121.62" y2="460.06" stroke="#2a2a2a" stroke-width="1.35" />
<line x1="124.78" y1="445.15" x2="124.78" y2="460.20" stroke="#2a2a2a" stroke-width="1.05" />
<line x1="122.78" y1="445.15" x2="126.78" y2="445.15" stroke="#2a2a2a" stroke-width="1.35" />
<line x1="122.78" y1="460.20" x2="126.78" y2="460.20" stroke="#2a2a2a" stroke-width="1.35" />
<line x1="129.95" y1="443.45" x2="129.95" y2="461.34" stroke="#2a2a2a" stroke-width="1.05" />
<line x1="127.95" y1="443.45" x2="131.95" y2="443.45" stroke="#2a2a2a" stroke-width="1.35" />
<line x1="127.95" y1="461.34" x2="131.95" y2="461.34" stroke="#2a2a2a" stroke-width="1.35" />
<line x1="135.12" y1="445.86" x2="135.12" y2="460.06" stroke="#2a2a2a" stroke-width="1.05" />
<line x1="133.12" y1="445.86" x2="137.12" y2="445.86" stroke="#2a2a2a" stroke-width="1.35" />
<line x1="133.12" y1="460.06" x2="137.12" y2="460.06" stroke="#2a2a2a" stroke-width="1.35" />
<line x1="140.29" y1="442.31" x2="140.29" y2="461.91" stroke="#2a2a2a" stroke-width="1.05" />
<line x1="138.29" y1="442.31" x2="142.29" y2="442.31" stroke="#2a2a2a" stroke-width="1.35" />
<line x1="138.29" y1="461.91" x2="142.29" y2="461.91" stroke="#2a2a2a" stroke-width="1.35" />
<line x1="145.46" y1="441.60" x2="145.46" y2="461.48" stroke="#2a2a2a" stroke-width="1.05" />
<line x1="143.46" y1="441.60" x2="147.46" y2="441.60" stroke="#2a2a2a" stroke-width="1.35" />
<line x1="143.46" y1="461.48" x2="147.46" y2="461.48" stroke="#2a2a2a" stroke-width="1.35" />
<line x1="150.62" y1="439.47" x2="150.62" y2="453.67" stroke="#2a2a2a" stroke-width="1.05" />
<line x1="148.62" y1="439.47" x2="152.62" y2="439.47" stroke="#2a2a2a" stroke-width="1.35" />
<line x1="148.62" y1="453.67" x2="152.62" y2="453.67" stroke="#2a2a2a" stroke-width="1.35" />
<line x1="155.79" y1="429.53" x2="155.79" y2="446.57" stroke="#2a2a2a" stroke-width="1.05" />
<line x1="153.79" y1="429.53" x2="157.79" y2="429.53" stroke="#2a2a2a" stroke-width="1.35" />
<line x1="153.79" y1="446.57" x2="157.79" y2="446.57" stroke="#2a2a2a" stroke-width="1.35" />
<line x1="160.96" y1="418.45" x2="160.96" y2="438.33" stroke="#2a2a2a" stroke-width="1.05" />
<line x1="158.96" y1="418.45" x2="162.96" y2="418.45" stroke="#2a2a2a" stroke-width="1.35" />
<line x1="158.96" y1="438.33" x2="162.96" y2="438.33" stroke="#2a2a2a" stroke-width="1.35" />
<line x1="166.13" y1="403.26" x2="166.13" y2="428.82" stroke="#2a2a2a" stroke-width="1.05" />
<line x1="164.13" y1="403.26" x2="168.13" y2="403.26" stroke="#2a2a2a" stroke-width="1.35" />
<line x1="164.13" y1="428.82" x2="168.13" y2="428.82" stroke="#2a2a2a" stroke-width="1.35" />
<line x1="171.30" y1="376.85" x2="171.30" y2="405.25" stroke="#2a2a2a" stroke-width="1.05" />
<line x1="169.30" y1="376.85" x2="173.30" y2="376.85" stroke="#2a2a2a" stroke-width="1.35" />
<line x1="169.30" y1="405.25" x2="173.30" y2="405.25" stroke="#2a2a2a" stroke-width="1.35" />
<line x1="176.46" y1="354.98" x2="176.46" y2="383.38" stroke="#2a2a2a" stroke-width="1.05" />
<line x1="174.46" y1="354.98" x2="178.46" y2="354.98" stroke="#2a2a2a" stroke-width="1.35" />
<line x1="174.46" y1="383.38" x2="178.46" y2="383.38" stroke="#2a2a2a" stroke-width="1.35" />
<line x1="181.63" y1="332.26" x2="181.63" y2="357.82" stroke="#2a2a2a" stroke-width="1.05" />
<line x1="179.63" y1="332.26" x2="183.63" y2="332.26" stroke="#2a2a2a" stroke-width="1.35" />
<line x1="179.63" y1="357.82" x2="183.63" y2="357.82" stroke="#2a2a2a" stroke-width="1.35" />
<line x1="186.80" y1="320.90" x2="186.80" y2="340.78" stroke="#2a2a2a" stroke-width="1.05" />
<line x1="184.80" y1="320.90" x2="188.80" y2="320.90" stroke="#2a2a2a" stroke-width="1.35" />
<line x1="184.80" y1="340.78" x2="188.80" y2="340.78" stroke="#2a2a2a" stroke-width="1.35" />
<line x1="191.97" y1="311.95" x2="191.97" y2="327.01" stroke="#2a2a2a" stroke-width="1.05" />
<line x1="189.97" y1="311.95" x2="193.97" y2="311.95" stroke="#2a2a2a" stroke-width="1.35" />
<line x1="189.97" y1="327.01" x2="193.97" y2="327.01" stroke="#2a2a2a" stroke-width="1.35" />
<line x1="197.14" y1="320.19" x2="197.14" y2="337.23" stroke="#2a2a2a" stroke-width="1.05" />
<line x1="195.14" y1="320.19" x2="199.14" y2="320.19" stroke="#2a2a2a" stroke-width="1.35" />
<line x1="195.14" y1="337.23" x2="199.14" y2="337.23" stroke="#2a2a2a" stroke-width="1.35" />
<line x1="202.30" y1="326.15" x2="202.30" y2="346.03" stroke="#2a2a2a" stroke-width="1.05" />
<line x1="200.30" y1="326.15" x2="204.30" y2="326.15" stroke="#2a2a2a" stroke-width="1.35" />
<line x1="200.30" y1="346.03" x2="204.30" y2="346.03" stroke="#2a2a2a" stroke-width="1.35" />
<line x1="207.47" y1="335.53" x2="207.47" y2="354.55" stroke="#2a2a2a" stroke-width="1.05" />
<line x1="205.47" y1="335.53" x2="209.47" y2="335.53" stroke="#2a2a2a" stroke-width="1.35" />
<line x1="205.47" y1="354.55" x2="209.47" y2="354.55" stroke="#2a2a2a" stroke-width="1.35" />
<line x1="212.64" y1="340.78" x2="212.64" y2="369.18" stroke="#2a2a2a" stroke-width="1.05" />
<line x1="210.64" y1="340.78" x2="214.64" y2="340.78" stroke="#2a2a2a" stroke-width="1.35" />
<line x1="210.64" y1="369.18" x2="214.64" y2="369.18" stroke="#2a2a2a" stroke-width="1.35" />
<line x1="217.81" y1="345.75" x2="217.81" y2="383.66" stroke="#2a2a2a" stroke-width="1.05" />
<line x1="215.81" y1="345.75" x2="219.81" y2="345.75" stroke="#2a2a2a" stroke-width="1.35" />
<line x1="215.81" y1="383.66" x2="219.81" y2="383.66" stroke="#2a2a2a" stroke-width="1.35" />
<line x1="222.98" y1="357.25" x2="222.98" y2="396.16" stroke="#2a2a2a" stroke-width="1.05" />
<line x1="220.98" y1="357.25" x2="224.98" y2="357.25" stroke="#2a2a2a" stroke-width="1.35" />
<line x1="220.98" y1="396.16" x2="224.98" y2="396.16" stroke="#2a2a2a" stroke-width="1.35" />
<line x1="228.14" y1="366.34" x2="228.14" y2="403.26" stroke="#2a2a2a" stroke-width="1.05" />
<line x1="226.14" y1="366.34" x2="230.14" y2="366.34" stroke="#2a2a2a" stroke-width="1.35" />
<line x1="226.14" y1="403.26" x2="230.14" y2="403.26" stroke="#2a2a2a" stroke-width="1.35" />
<line x1="233.31" y1="367.05" x2="233.31" y2="412.35" stroke="#2a2a2a" stroke-width="1.05" />
<line x1="231.31" y1="367.05" x2="235.31" y2="367.05" stroke="#2a2a2a" stroke-width="1.35" />
<line x1="231.31" y1="412.35" x2="235.31" y2="412.35" stroke="#2a2a2a" stroke-width="1.35" />
<line x1="238.48" y1="375.57" x2="238.48" y2="419.31" stroke="#2a2a2a" stroke-width="1.05" />
<line x1="236.48" y1="375.57" x2="240.48" y2="375.57" stroke="#2a2a2a" stroke-width="1.35" />
<line x1="236.48" y1="419.31" x2="240.48" y2="419.31" stroke="#2a2a2a" stroke-width="1.35" />
<line x1="243.65" y1="380.54" x2="243.65" y2="422.86" stroke="#2a2a2a" stroke-width="1.05" />
<line x1="241.65" y1="380.54" x2="245.65" y2="380.54" stroke="#2a2a2a" stroke-width="1.35" />
<line x1="241.65" y1="422.86" x2="245.65" y2="422.86" stroke="#2a2a2a" stroke-width="1.35" />
<line x1="248.82" y1="383.66" x2="248.82" y2="428.54" stroke="#2a2a2a" stroke-width="1.05" />
<line x1="246.82" y1="383.66" x2="250.82" y2="383.66" stroke="#2a2a2a" stroke-width="1.35" />
<line x1="246.82" y1="428.54" x2="250.82" y2="428.54" stroke="#2a2a2a" stroke-width="1.35" />
<line x1="253.98" y1="388.35" x2="253.98" y2="431.94" stroke="#2a2a2a" stroke-width="1.05" />
<line x1="251.98" y1="388.35" x2="255.98" y2="388.35" stroke="#2a2a2a" stroke-width="1.35" />
<line x1="251.98" y1="431.94" x2="255.98" y2="431.94" stroke="#2a2a2a" stroke-width="1.35" />
<line x1="259.15" y1="392.33" x2="259.15" y2="436.63" stroke="#2a2a2a" stroke-width="1.05" />
<line x1="257.15" y1="392.33" x2="261.15" y2="392.33" stroke="#2a2a2a" stroke-width="1.35" />
<line x1="257.15" y1="436.63" x2="261.15" y2="436.63" stroke="#2a2a2a" stroke-width="1.35" />
<line x1="264.32" y1="391.05" x2="264.32" y2="439.33" stroke="#2a2a2a" stroke-width="1.05" />
<line x1="262.32" y1="391.05" x2="266.32" y2="391.05" stroke="#2a2a2a" stroke-width="1.35" />
<line x1="262.32" y1="439.33" x2="266.32" y2="439.33" stroke="#2a2a2a" stroke-width="1.35" />
<line x1="269.49" y1="393.32" x2="269.49" y2="441.03" stroke="#2a2a2a" stroke-width="1.05" />
<line x1="267.49" y1="393.32" x2="271.49" y2="393.32" stroke="#2a2a2a" stroke-width="1.35" />
<line x1="267.49" y1="441.03" x2="271.49" y2="441.03" stroke="#2a2a2a" stroke-width="1.35" />
<line x1="274.66" y1="395.17" x2="274.66" y2="443.45" stroke="#2a2a2a" stroke-width="1.05" />
<line x1="272.66" y1="395.17" x2="276.66" y2="395.17" stroke="#2a2a2a" stroke-width="1.35" />
<line x1="272.66" y1="443.45" x2="276.66" y2="443.45" stroke="#2a2a2a" stroke-width="1.35" />
<line x1="279.82" y1="399.28" x2="279.82" y2="446.14" stroke="#2a2a2a" stroke-width="1.05" />
<line x1="277.82" y1="399.28" x2="281.82" y2="399.28" stroke="#2a2a2a" stroke-width="1.35" />
<line x1="277.82" y1="446.14" x2="281.82" y2="446.14" stroke="#2a2a2a" stroke-width="1.35" />
<line x1="284.99" y1="399.28" x2="284.99" y2="447.56" stroke="#2a2a2a" stroke-width="1.05" />
<line x1="282.99" y1="399.28" x2="286.99" y2="399.28" stroke="#2a2a2a" stroke-width="1.35" />
<line x1="282.99" y1="447.56" x2="286.99" y2="447.56" stroke="#2a2a2a" stroke-width="1.35" />
<path d="M67.94,456.08 C68.80,456.18 71.38,456.56 73.10,456.65 C74.83,456.75 76.55,456.65 78.27,456.65 C79.99,456.65 81.72,456.65 83.44,456.65 C85.16,456.65 86.89,456.65 88.61,456.65 C90.33,456.65 92.05,456.65 93.78,456.65 C95.50,456.65 97.22,456.65 98.94,456.65 C100.67,456.65 102.39,456.65 104.11,456.65 C105.83,456.65 107.56,456.68 109.28,456.65 C111.00,456.63 112.73,456.51 114.45,456.51 C116.17,456.51 117.89,456.63 119.62,456.65 C121.34,456.68 123.06,456.65 124.78,456.65 C126.51,456.65 128.23,456.65 129.95,456.65 C131.67,456.65 133.40,456.70 135.12,456.65 C136.84,456.60 138.57,457.55 140.29,456.37 C142.01,455.18 143.73,451.99 145.46,449.55 C147.18,447.11 148.90,444.61 150.62,441.74 C152.35,438.88 154.07,436.18 155.79,432.37 C157.51,428.56 159.24,424.63 160.96,418.88 C162.68,413.13 164.41,405.67 166.13,397.86 C167.85,390.05 169.57,379.64 171.30,372.02 C173.02,364.40 174.74,357.58 176.46,352.14 C178.19,346.70 179.91,342.79 181.63,339.36 C183.35,335.93 185.08,333.56 186.80,331.55 C188.52,329.54 190.25,328.19 191.97,327.29 C193.69,326.39 195.41,326.56 197.14,326.15 C198.86,325.75 200.58,325.28 202.30,324.88 C204.03,324.47 205.75,323.81 207.47,323.74 C209.19,323.67 210.92,324.02 212.64,324.45 C214.36,324.88 216.09,325.66 217.81,326.30 C219.53,326.94 221.25,327.53 222.98,328.28 C224.70,329.04 226.42,329.94 228.14,330.84 C229.87,331.74 231.59,332.85 233.31,333.68 C235.03,334.51 236.76,335.03 238.48,335.81 C240.20,336.59 241.93,337.58 243.65,338.37 C245.37,339.15 247.09,339.74 248.82,340.50 C250.54,341.25 252.26,342.15 253.98,342.91 C255.71,343.67 257.43,344.26 259.15,345.04 C260.87,345.82 262.60,346.89 264.32,347.60 C266.04,348.31 267.77,348.78 269.49,349.30 C271.21,349.82 272.93,350.13 274.66,350.72 C276.38,351.31 278.10,352.61 279.82,352.85 C281.55,353.09 284.13,352.26 284.99,352.14" fill="none" stroke="#9db2ad" stroke-width="2.5"/>
<rect x="64.84" y="453.08" width="6.2" height="6.0" fill="#9db2ad"/>
<rect x="70.00" y="453.65" width="6.2" height="6.0" fill="#9db2ad"/>
<rect x="75.17" y="453.65" width="6.2" height="6.0" fill="#9db2ad"/>
<rect x="80.34" y="453.65" width="6.2" height="6.0" fill="#9db2ad"/>
<rect x="85.51" y="453.65" width="6.2" height="6.0" fill="#9db2ad"/>
<rect x="90.68" y="453.65" width="6.2" height="6.0" fill="#9db2ad"/>
<rect x="95.84" y="453.65" width="6.2" height="6.0" fill="#9db2ad"/>
<rect x="101.01" y="453.65" width="6.2" height="6.0" fill="#9db2ad"/>
<rect x="106.18" y="453.65" width="6.2" height="6.0" fill="#9db2ad"/>
<rect x="111.35" y="453.51" width="6.2" height="6.0" fill="#9db2ad"/>
<rect x="116.52" y="453.65" width="6.2" height="6.0" fill="#9db2ad"/>
<rect x="121.68" y="453.65" width="6.2" height="6.0" fill="#9db2ad"/>
<rect x="126.85" y="453.65" width="6.2" height="6.0" fill="#9db2ad"/>
<rect x="132.02" y="453.65" width="6.2" height="6.0" fill="#9db2ad"/>
<rect x="137.19" y="453.37" width="6.2" height="6.0" fill="#9db2ad"/>
<rect x="142.36" y="446.55" width="6.2" height="6.0" fill="#9db2ad"/>
<rect x="147.52" y="438.74" width="6.2" height="6.0" fill="#9db2ad"/>
<rect x="152.69" y="429.37" width="6.2" height="6.0" fill="#9db2ad"/>
<rect x="157.86" y="415.88" width="6.2" height="6.0" fill="#9db2ad"/>
<rect x="163.03" y="394.86" width="6.2" height="6.0" fill="#9db2ad"/>
<rect x="168.20" y="369.02" width="6.2" height="6.0" fill="#9db2ad"/>
<rect x="173.36" y="349.14" width="6.2" height="6.0" fill="#9db2ad"/>
<rect x="178.53" y="336.36" width="6.2" height="6.0" fill="#9db2ad"/>
<rect x="183.70" y="328.55" width="6.2" height="6.0" fill="#9db2ad"/>
<rect x="188.87" y="324.29" width="6.2" height="6.0" fill="#9db2ad"/>
<rect x="194.04" y="323.15" width="6.2" height="6.0" fill="#9db2ad"/>
<rect x="199.20" y="321.88" width="6.2" height="6.0" fill="#9db2ad"/>
<rect x="204.37" y="320.74" width="6.2" height="6.0" fill="#9db2ad"/>
<rect x="209.54" y="321.45" width="6.2" height="6.0" fill="#9db2ad"/>
<rect x="214.71" y="323.30" width="6.2" height="6.0" fill="#9db2ad"/>
<rect x="219.88" y="325.28" width="6.2" height="6.0" fill="#9db2ad"/>
<rect x="225.04" y="327.84" width="6.2" height="6.0" fill="#9db2ad"/>
<rect x="230.21" y="330.68" width="6.2" height="6.0" fill="#9db2ad"/>
<rect x="235.38" y="332.81" width="6.2" height="6.0" fill="#9db2ad"/>
<rect x="240.55" y="335.37" width="6.2" height="6.0" fill="#9db2ad"/>
<rect x="245.72" y="337.50" width="6.2" height="6.0" fill="#9db2ad"/>
<rect x="250.88" y="339.91" width="6.2" height="6.0" fill="#9db2ad"/>
<rect x="256.05" y="342.04" width="6.2" height="6.0" fill="#9db2ad"/>
<rect x="261.22" y="344.60" width="6.2" height="6.0" fill="#9db2ad"/>
<rect x="266.39" y="346.30" width="6.2" height="6.0" fill="#9db2ad"/>
<rect x="271.56" y="347.72" width="6.2" height="6.0" fill="#9db2ad"/>
<rect x="276.72" y="349.85" width="6.2" height="6.0" fill="#9db2ad"/>
<rect x="281.89" y="349.14" width="6.2" height="6.0" fill="#9db2ad"/>
<path d="M67.94,450.12 C68.80,449.88 71.38,448.51 73.10,448.70 C74.83,448.89 76.55,451.09 78.27,451.26 C79.99,451.42 81.72,449.65 83.44,449.69 C85.16,449.74 86.89,451.11 88.61,451.54 C90.33,451.97 92.05,452.20 93.78,452.25 C95.50,452.30 97.22,451.75 98.94,451.82 C100.67,451.89 102.39,452.49 104.11,452.68 C105.83,452.87 107.56,453.01 109.28,452.96 C111.00,452.91 112.73,452.39 114.45,452.39 C116.17,452.39 117.89,452.91 119.62,452.96 C121.34,453.01 123.06,452.77 124.78,452.68 C126.51,452.58 128.23,452.34 129.95,452.39 C131.67,452.44 133.40,453.01 135.12,452.96 C136.84,452.91 138.57,452.34 140.29,452.11 C142.01,451.87 143.73,452.46 145.46,451.54 C147.18,450.62 148.90,448.82 150.62,446.57 C152.35,444.32 154.07,441.08 155.79,438.05 C157.51,435.02 159.24,432.06 160.96,428.39 C162.68,424.73 164.41,422.26 166.13,416.04 C167.85,409.82 169.57,398.86 171.30,391.05 C173.02,383.24 174.74,376.85 176.46,369.18 C178.19,361.51 179.91,351.43 181.63,345.04 C183.35,338.65 185.08,335.10 186.80,330.84 C188.52,326.58 190.25,319.84 191.97,319.48 C193.69,319.12 195.41,325.94 197.14,328.71 C198.86,331.48 200.58,333.37 202.30,336.09 C204.03,338.82 205.75,341.89 207.47,345.04 C209.19,348.19 210.92,351.90 212.64,354.98 C214.36,358.06 216.09,359.95 217.81,363.50 C219.53,367.05 221.25,372.73 222.98,376.28 C224.70,379.83 226.42,382.67 228.14,384.80 C229.87,386.93 231.59,387.17 233.31,389.06 C235.03,390.95 236.76,394.03 238.48,396.16 C240.20,398.29 241.93,400.18 243.65,401.84 C245.37,403.50 247.09,404.68 248.82,406.10 C250.54,407.52 252.26,409.03 253.98,410.36 C255.71,411.69 257.43,413.34 259.15,414.05 C260.87,414.76 262.60,414.29 264.32,414.62 C266.04,414.95 267.77,415.45 269.49,416.04 C271.21,416.63 272.93,417.22 274.66,418.17 C276.38,419.12 278.10,420.77 279.82,421.72 C281.55,422.67 284.13,423.49 284.99,423.85" fill="none" stroke="#0d0d0d" stroke-width="1.7"/>
<path d="M67.94,447.22 L70.84,450.12 L67.94,453.02 L65.04,450.12 Z" fill="#0d0d0d"/>
<path d="M73.10,445.80 L76.00,448.70 L73.10,451.60 L70.20,448.70 Z" fill="#0d0d0d"/>
<path d="M78.27,448.36 L81.17,451.26 L78.27,454.16 L75.37,451.26 Z" fill="#0d0d0d"/>
<path d="M83.44,446.79 L86.34,449.69 L83.44,452.59 L80.54,449.69 Z" fill="#0d0d0d"/>
<path d="M88.61,448.64 L91.51,451.54 L88.61,454.44 L85.71,451.54 Z" fill="#0d0d0d"/>
<path d="M93.78,449.35 L96.68,452.25 L93.78,455.15 L90.88,452.25 Z" fill="#0d0d0d"/>
<path d="M98.94,448.92 L101.84,451.82 L98.94,454.72 L96.04,451.82 Z" fill="#0d0d0d"/>
<path d="M104.11,449.78 L107.01,452.68 L104.11,455.58 L101.21,452.68 Z" fill="#0d0d0d"/>
<path d="M109.28,450.06 L112.18,452.96 L109.28,455.86 L106.38,452.96 Z" fill="#0d0d0d"/>
<path d="M114.45,449.49 L117.35,452.39 L114.45,455.29 L111.55,452.39 Z" fill="#0d0d0d"/>
<path d="M119.62,450.06 L122.52,452.96 L119.62,455.86 L116.72,452.96 Z" fill="#0d0d0d"/>
<path d="M124.78,449.78 L127.68,452.68 L124.78,455.58 L121.88,452.68 Z" fill="#0d0d0d"/>
<path d="M129.95,449.49 L132.85,452.39 L129.95,455.29 L127.05,452.39 Z" fill="#0d0d0d"/>
<path d="M135.12,450.06 L138.02,452.96 L135.12,455.86 L132.22,452.96 Z" fill="#0d0d0d"/>
<path d="M140.29,449.21 L143.19,452.11 L140.29,455.01 L137.39,452.11 Z" fill="#0d0d0d"/>
<path d="M145.46,448.64 L148.36,451.54 L145.46,454.44 L142.56,451.54 Z" fill="#0d0d0d"/>
<path d="M150.62,443.67 L153.52,446.57 L150.62,449.47 L147.72,446.57 Z" fill="#0d0d0d"/>
<path d="M155.79,435.15 L158.69,438.05 L155.79,440.95 L152.89,438.05 Z" fill="#0d0d0d"/>
<path d="M160.96,425.49 L163.86,428.39 L160.96,431.29 L158.06,428.39 Z" fill="#0d0d0d"/>
<path d="M166.13,413.14 L169.03,416.04 L166.13,418.94 L163.23,416.04 Z" fill="#0d0d0d"/>
<path d="M171.30,388.15 L174.20,391.05 L171.30,393.95 L168.40,391.05 Z" fill="#0d0d0d"/>
<path d="M176.46,366.28 L179.36,369.18 L176.46,372.08 L173.56,369.18 Z" fill="#0d0d0d"/>
<path d="M181.63,342.14 L184.53,345.04 L181.63,347.94 L178.73,345.04 Z" fill="#0d0d0d"/>
<path d="M186.80,327.94 L189.70,330.84 L186.80,333.74 L183.90,330.84 Z" fill="#0d0d0d"/>
<path d="M191.97,316.58 L194.87,319.48 L191.97,322.38 L189.07,319.48 Z" fill="#0d0d0d"/>
<path d="M197.14,325.81 L200.04,328.71 L197.14,331.61 L194.24,328.71 Z" fill="#0d0d0d"/>
<path d="M202.30,333.19 L205.20,336.09 L202.30,338.99 L199.40,336.09 Z" fill="#0d0d0d"/>
<path d="M207.47,342.14 L210.37,345.04 L207.47,347.94 L204.57,345.04 Z" fill="#0d0d0d"/>
<path d="M212.64,352.08 L215.54,354.98 L212.64,357.88 L209.74,354.98 Z" fill="#0d0d0d"/>
<path d="M217.81,360.60 L220.71,363.50 L217.81,366.40 L214.91,363.50 Z" fill="#0d0d0d"/>
<path d="M222.98,373.38 L225.88,376.28 L222.98,379.18 L220.08,376.28 Z" fill="#0d0d0d"/>
<path d="M228.14,381.90 L231.04,384.80 L228.14,387.70 L225.24,384.80 Z" fill="#0d0d0d"/>
<path d="M233.31,386.16 L236.21,389.06 L233.31,391.96 L230.41,389.06 Z" fill="#0d0d0d"/>
<path d="M238.48,393.26 L241.38,396.16 L238.48,399.06 L235.58,396.16 Z" fill="#0d0d0d"/>
<path d="M243.65,398.94 L246.55,401.84 L243.65,404.74 L240.75,401.84 Z" fill="#0d0d0d"/>
<path d="M248.82,403.20 L251.72,406.10 L248.82,409.00 L245.92,406.10 Z" fill="#0d0d0d"/>
<path d="M253.98,407.46 L256.88,410.36 L253.98,413.26 L251.08,410.36 Z" fill="#0d0d0d"/>
<path d="M259.15,411.15 L262.05,414.05 L259.15,416.95 L256.25,414.05 Z" fill="#0d0d0d"/>
<path d="M264.32,411.72 L267.22,414.62 L264.32,417.52 L261.42,414.62 Z" fill="#0d0d0d"/>
<path d="M269.49,413.14 L272.39,416.04 L269.49,418.94 L266.59,416.04 Z" fill="#0d0d0d"/>
<path d="M274.66,415.27 L277.56,418.17 L274.66,421.07 L271.76,418.17 Z" fill="#0d0d0d"/>
<path d="M279.82,418.82 L282.72,421.72 L279.82,424.62 L276.92,421.72 Z" fill="#0d0d0d"/>
<path d="M284.99,420.95 L287.89,423.85 L284.99,426.75 L282.09,423.85 Z" fill="#0d0d0d"/>
<line x1="413.80" y1="300.20" x2="413.80" y2="450.40" stroke="#555" stroke-width="1.5" />
<line x1="410.80" y1="450.40" x2="413.80" y2="450.40" stroke="#555" stroke-width="1.2" />
<text x="401.08" y="453.30" font-size="8.45" font-weight="normal" fill="#111" stroke="#111" stroke-width="0.4" textLength="4.43" lengthAdjust="spacingAndGlyphs">0</text>
<line x1="410.80" y1="430.40" x2="413.80" y2="430.40" stroke="#555" stroke-width="1.2" />
<text x="393.82" y="433.30" font-size="8.45" font-weight="normal" fill="#111" stroke="#111" stroke-width="0.4" textLength="11.81" lengthAdjust="spacingAndGlyphs">0.2</text>
<line x1="410.80" y1="410.40" x2="413.80" y2="410.40" stroke="#555" stroke-width="1.2" />
<text x="393.64" y="413.30" font-size="8.45" font-weight="normal" fill="#111" stroke="#111" stroke-width="0.4" textLength="11.81" lengthAdjust="spacingAndGlyphs">0.4</text>
<line x1="410.80" y1="390.40" x2="413.80" y2="390.40" stroke="#555" stroke-width="1.2" />
<text x="393.77" y="393.30" font-size="8.45" font-weight="normal" fill="#111" stroke="#111" stroke-width="0.4" textLength="11.81" lengthAdjust="spacingAndGlyphs">0.6</text>
<line x1="410.80" y1="370.40" x2="413.80" y2="370.40" stroke="#555" stroke-width="1.2" />
<text x="393.76" y="373.30" font-size="8.45" font-weight="normal" fill="#111" stroke="#111" stroke-width="0.4" textLength="11.81" lengthAdjust="spacingAndGlyphs">0.8</text>
<line x1="410.80" y1="350.40" x2="413.80" y2="350.40" stroke="#555" stroke-width="1.2" />
<text x="401.21" y="353.30" font-size="8.58" font-weight="normal" fill="#111" stroke="#111" stroke-width="0.4" textLength="4.38" lengthAdjust="spacingAndGlyphs">1</text>
<line x1="410.80" y1="330.40" x2="413.80" y2="330.40" stroke="#555" stroke-width="1.2" />
<text x="393.83" y="333.30" font-size="8.45" font-weight="normal" fill="#111" stroke="#111" stroke-width="0.4" textLength="11.79" lengthAdjust="spacingAndGlyphs">1.2</text>
<line x1="410.80" y1="310.40" x2="413.80" y2="310.40" stroke="#555" stroke-width="1.2" />
<text x="393.65" y="313.30" font-size="8.58" font-weight="normal" fill="#111" stroke="#111" stroke-width="0.4" textLength="11.80" lengthAdjust="spacingAndGlyphs">1.4</text>
<rect x="432.4" y="430.90" width="24.1" height="19.50" fill="#6a6a6a"/>
<rect x="456.5" y="356.20" width="24.7" height="94.20" fill="#bcbcbc"/>
<line x1="413.80" y1="450.40" x2="499.30" y2="450.40" stroke="#222" stroke-width="1.3" />
<line x1="444.90" y1="420.90" x2="444.90" y2="441.60" stroke="#111" stroke-width="1.3" />
<line x1="442.65" y1="420.90" x2="447.15" y2="420.90" stroke="#111" stroke-width="1.6" />
<line x1="442.65" y1="441.60" x2="447.15" y2="441.60" stroke="#111" stroke-width="1.6" />
<line x1="469.00" y1="310.20" x2="469.00" y2="401.70" stroke="#222" stroke-width="1.3" />
<line x1="466.75" y1="310.20" x2="471.25" y2="310.20" stroke="#222" stroke-width="1.6" />
<line x1="466.75" y1="401.70" x2="471.25" y2="401.70" stroke="#222" stroke-width="1.6" />
<text transform="translate(376.70,395.04) rotate(-90)" x="0" y="0" font-size="9.66" font-weight="normal" fill="#111" stroke="#111" stroke-width="0.4" textLength="49.65" lengthAdjust="spacingAndGlyphs">I220s/Imax</text>
<text transform="translate(449.80,483.05) rotate(-90)" x="0" y="0" font-size="10.32" font-weight="normal" fill="#111" stroke="#111" stroke-width="0.4" textLength="17.61" lengthAdjust="spacingAndGlyphs">WT</text>
<text transform="translate(474.80,506.62) rotate(-90)" x="0" y="0" font-size="9.38" font-weight="normal" fill="#111" stroke="#111" stroke-width="0.4" textLength="53.34" lengthAdjust="spacingAndGlyphs">Arg352His</text>
</svg></body></html>
